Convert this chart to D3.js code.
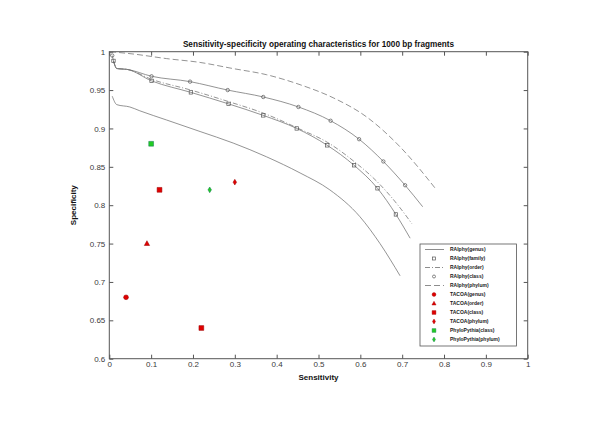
<!DOCTYPE html>
<html>
<head>
<meta charset="utf-8">
<script src="https://cdn.jsdelivr.net/npm/d3@7"></script>
<style>
  body { margin: 0; background: #fff; }
  svg { display: block; font-family: "Liberation Sans", Arial, sans-serif; }
  .tick text { fill: #3a3a3a; font-size: 8px; }
</style>
</head>
<body>
<svg width="600" height="423"></svg>
<script>
// RAIphy curves (sensitivity, specificity)
const genusSens = [0.007, 0.018, 0.049, 0.073, 0.137, 0.217, 0.296, 0.376, 0.456, 0.527, 0.599, 0.647, 0.695];
const genusSpec = [0.942, 0.931, 0.928, 0.923, 0.911, 0.896, 0.881, 0.863, 0.842, 0.820, 0.785, 0.750, 0.708];

const familySens = [0.010, 0.018, 0.042, 0.101, 0.195, 0.285, 0.368, 0.448, 0.521, 0.585, 0.641, 0.685, 0.719];
const familySpec = [0.988, 0.978, 0.977, 0.962, 0.947, 0.932, 0.917, 0.900, 0.878, 0.852, 0.822, 0.788, 0.757];
const familyMarks = [0, 3, 4, 5, 6, 7, 8, 9, 10, 11];

const orderSens = [0.010, 0.018, 0.042, 0.101, 0.195, 0.285, 0.368, 0.456, 0.521, 0.585, 0.645, 0.690, 0.723];
const orderSpec = [0.988, 0.978, 0.977, 0.964, 0.950, 0.935, 0.920, 0.899, 0.882, 0.857, 0.828, 0.800, 0.776];

const classSens = [0.007, 0.018, 0.042, 0.101, 0.193, 0.283, 0.368, 0.452, 0.529, 0.597, 0.655, 0.707, 0.749];
const classSpec = [0.995, 0.978, 0.977, 0.968, 0.961, 0.950, 0.941, 0.928, 0.910, 0.886, 0.857, 0.826, 0.798];
const classMarks = [0, 3, 4, 5, 6, 7, 8, 9, 10, 11];

const phylumSens = [0.002, 0.057, 0.137, 0.217, 0.296, 0.376, 0.456, 0.535, 0.615, 0.695, 0.782];
const phylumSpec = [1.000, 0.997, 0.991, 0.986, 0.978, 0.970, 0.957, 0.940, 0.915, 0.876, 0.820];

// single points
const pointNames = ["TACOA(genus)", "TACOA(order)", "TACOA(class)", "TACOA(class)", "TACOA(phylum)", "PhyloPythia(class)", "PhyloPythia(phylum)"];
const pointSens = [0.04, 0.09, 0.12, 0.22, 0.30, 0.10, 0.24];
const pointSpec = [0.68, 0.75, 0.82, 0.64, 0.83, 0.88, 0.82];
const pointShape = ["circle", "triangle", "square", "square", "diamond", "square", "diamond"];
const pointColor = ["#e00000", "#e00000", "#e00000", "#e00000", "#e00000", "#22cc22", "#22cc22"];

const legendNames = ["RAIphy(genus)", "RAIphy(family)", "RAIphy(order)", "RAIphy(class)", "RAIphy(phylum)",
  "TACOA(genus)", "TACOA(order)", "TACOA(class)", "TACOA(phylum)", "PhyloPythia(class)", "PhyloPythia(phylum)"];

const xTicks = [0, 0.1, 0.2, 0.3, 0.4, 0.5, 0.6, 0.7, 0.8, 0.9, 1];
const yTicks = [0.6, 0.65, 0.7, 0.75, 0.8, 0.85, 0.9, 0.95, 1];

const svg = d3.select("svg");
const pLeft = 109.3, pRight = 527.7, pTop = 51.7, pBottom = 358.7;

const x = d3.scaleLinear().domain([0, 1]).range([pLeft, pRight]);
const y = d3.scaleLinear().domain([0.6, 1]).range([pBottom, pTop]);

const axisColor = "#555";
const lineColor = "#707070";

// axes
const fmt = d => String(+d.toFixed(2));
svg.append("g").attr("transform", `translate(0,${pBottom})`)
  .call(d3.axisBottom(x).tickValues(xTicks).tickFormat(fmt).tickSize(-4).tickPadding(3));
svg.append("g").attr("transform", `translate(0,${pTop})`)
  .call(d3.axisTop(x).tickValues(xTicks).tickFormat("").tickSize(-4));
svg.append("g").attr("transform", `translate(${pLeft},0)`)
  .call(d3.axisLeft(y).tickValues(yTicks).tickFormat(fmt).tickSize(-4).tickPadding(4));
svg.append("g").attr("transform", `translate(${pRight},0)`)
  .call(d3.axisRight(y).tickValues(yTicks).tickFormat("").tickSize(-4));
svg.selectAll(".domain").remove();
svg.selectAll(".tick line").attr("stroke", axisColor);

svg.append("rect")
  .attr("x", pLeft).attr("y", pTop)
  .attr("width", pRight - pLeft).attr("height", pBottom - pTop)
  .attr("fill", "none").attr("stroke", axisColor).attr("stroke-width", 1);

// curves
const line = d3.line().x(d => x(d[0])).y(d => y(d[1])).curve(d3.curveMonotoneX);
function curve(sens, spec, dash) {
  const pts = sens.map((s, i) => [s, spec[i]]);
  svg.append("path").datum(pts)
    .attr("d", line)
    .attr("fill", "none")
    .attr("stroke", lineColor)
    .attr("stroke-width", 0.75)
    .attr("stroke-dasharray", dash);
  return pts;
}

curve(phylumSens, phylumSpec, "6,3");
const classPts = curve(classSens, classSpec, null);
curve(orderSens, orderSpec, "5,2,1,2");
const familyPts = curve(familySens, familySpec, null);
curve(genusSens, genusSpec, null);

svg.selectAll(".cmark").data(classMarks.map(i => classPts[i])).enter()
  .append("circle")
  .attr("cx", d => x(d[0])).attr("cy", d => y(d[1])).attr("r", 1.7)
  .attr("fill", "none").attr("stroke", "#555").attr("stroke-width", 0.7);

svg.selectAll(".fmark").data(familyMarks.map(i => familyPts[i])).enter()
  .append("rect")
  .attr("x", d => x(d[0]) - 1.7).attr("y", d => y(d[1]) - 1.7)
  .attr("width", 3.4).attr("height", 3.4)
  .attr("fill", "none").attr("stroke", "#555").attr("stroke-width", 0.7);

// symbol paths
function shapePath(shape, s) {
  if (shape === "circle") return `M${-s},0A${s},${s} 0 1,0 ${s},0A${s},${s} 0 1,0 ${-s},0Z`;
  if (shape === "square") return `M${-s},${-s}H${s}V${s}H${-s}Z`;
  if (shape === "triangle") return `M0,${-s * 1.2}L${s * 1.1},${s * 0.8}L${-s * 1.1},${s * 0.8}Z`;
  return `M0,${-s * 1.3}L${s * 0.8},0L0,${s * 1.3}L${-s * 0.8},0Z`;
}
const sizes = { circle: 2.4, square: 2.4, triangle: 2.4, diamond: 2.2 };

svg.selectAll(".pt").data(pointSens.map((s, i) => i)).enter()
  .append("path")
  .attr("transform", i => `translate(${x(pointSens[i])},${y(pointSpec[i])})`)
  .attr("d", i => shapePath(pointShape[i], sizes[pointShape[i]]))
  .attr("fill", i => pointColor[i])
  .attr("stroke", i => pointColor[i] === "#e00000" ? "#900" : "#175")
  .attr("stroke-width", 0.5);

// titles
svg.append("text")
  .attr("x", (pLeft + pRight) / 2).attr("y", 47)
  .attr("text-anchor", "middle")
  .attr("font-size", "8.2px").attr("font-weight", "bold").attr("fill", "#111")
  .text("Sensitivity-specificity operating characteristics for 1000 bp fragments");

svg.append("text")
  .attr("x", (pLeft + pRight) / 2).attr("y", 380)
  .attr("text-anchor", "middle")
  .attr("font-size", "8px").attr("font-weight", "bold").attr("fill", "#111")
  .text("Sensitivity");

svg.append("text")
  .attr("transform", `translate(76,${(pTop + pBottom) / 2}) rotate(-90)`)
  .attr("text-anchor", "middle")
  .attr("font-size", "8px").attr("font-weight", "bold").attr("fill", "#111")
  .text("Specificity");

// legend
const lg = svg.append("g");
lg.append("rect")
  .attr("x", 420).attr("y", 244).attr("width", 96.5).attr("height", 102)
  .attr("fill", "#fff").attr("stroke", axisColor).attr("stroke-width", 0.8);

const legendSym = [
  { type: "line", dash: null }, { type: "mark", shape: "osquare" }, { type: "line", dash: "5,2,1,2" },
  { type: "mark", shape: "ocircle" }, { type: "line", dash: "6,3" },
  { type: "pt", shape: "circle", color: "#e00000" }, { type: "pt", shape: "triangle", color: "#e00000" },
  { type: "pt", shape: "square", color: "#e00000" }, { type: "pt", shape: "diamond", color: "#e00000" },
  { type: "pt", shape: "square", color: "#22cc22" }, { type: "pt", shape: "diamond", color: "#22cc22" }
];

legendNames.forEach((name, i) => {
  const ly = 249.5 + i * 9;
  const sym = legendSym[i];
  if (sym.type === "line") {
    lg.append("line").attr("x1", 425).attr("x2", 444).attr("y1", ly).attr("y2", ly)
      .attr("stroke", lineColor).attr("stroke-width", 0.8).attr("stroke-dasharray", sym.dash);
  } else if (sym.type === "mark") {
    if (sym.shape === "ocircle") {
      lg.append("circle").attr("cx", 434).attr("cy", ly).attr("r", 1.5)
        .attr("fill", "none").attr("stroke", "#555").attr("stroke-width", 0.7);
    } else {
      lg.append("rect").attr("x", 432.5).attr("y", ly - 1.5).attr("width", 3).attr("height", 3)
        .attr("fill", "none").attr("stroke", "#555").attr("stroke-width", 0.7);
    }
  } else {
    lg.append("path").attr("transform", `translate(434,${ly})`)
      .attr("d", shapePath(sym.shape, 1.9))
      .attr("fill", sym.color).attr("stroke", sym.color === "#e00000" ? "#900" : "#175").attr("stroke-width", 0.4);
  }
  lg.append("text").attr("x", 450).attr("y", ly + 1.8)
    .attr("font-size", "5px").attr("font-weight", "bold").attr("fill", "#222")
    .text(name);
});
</script>
</body>
</html>
